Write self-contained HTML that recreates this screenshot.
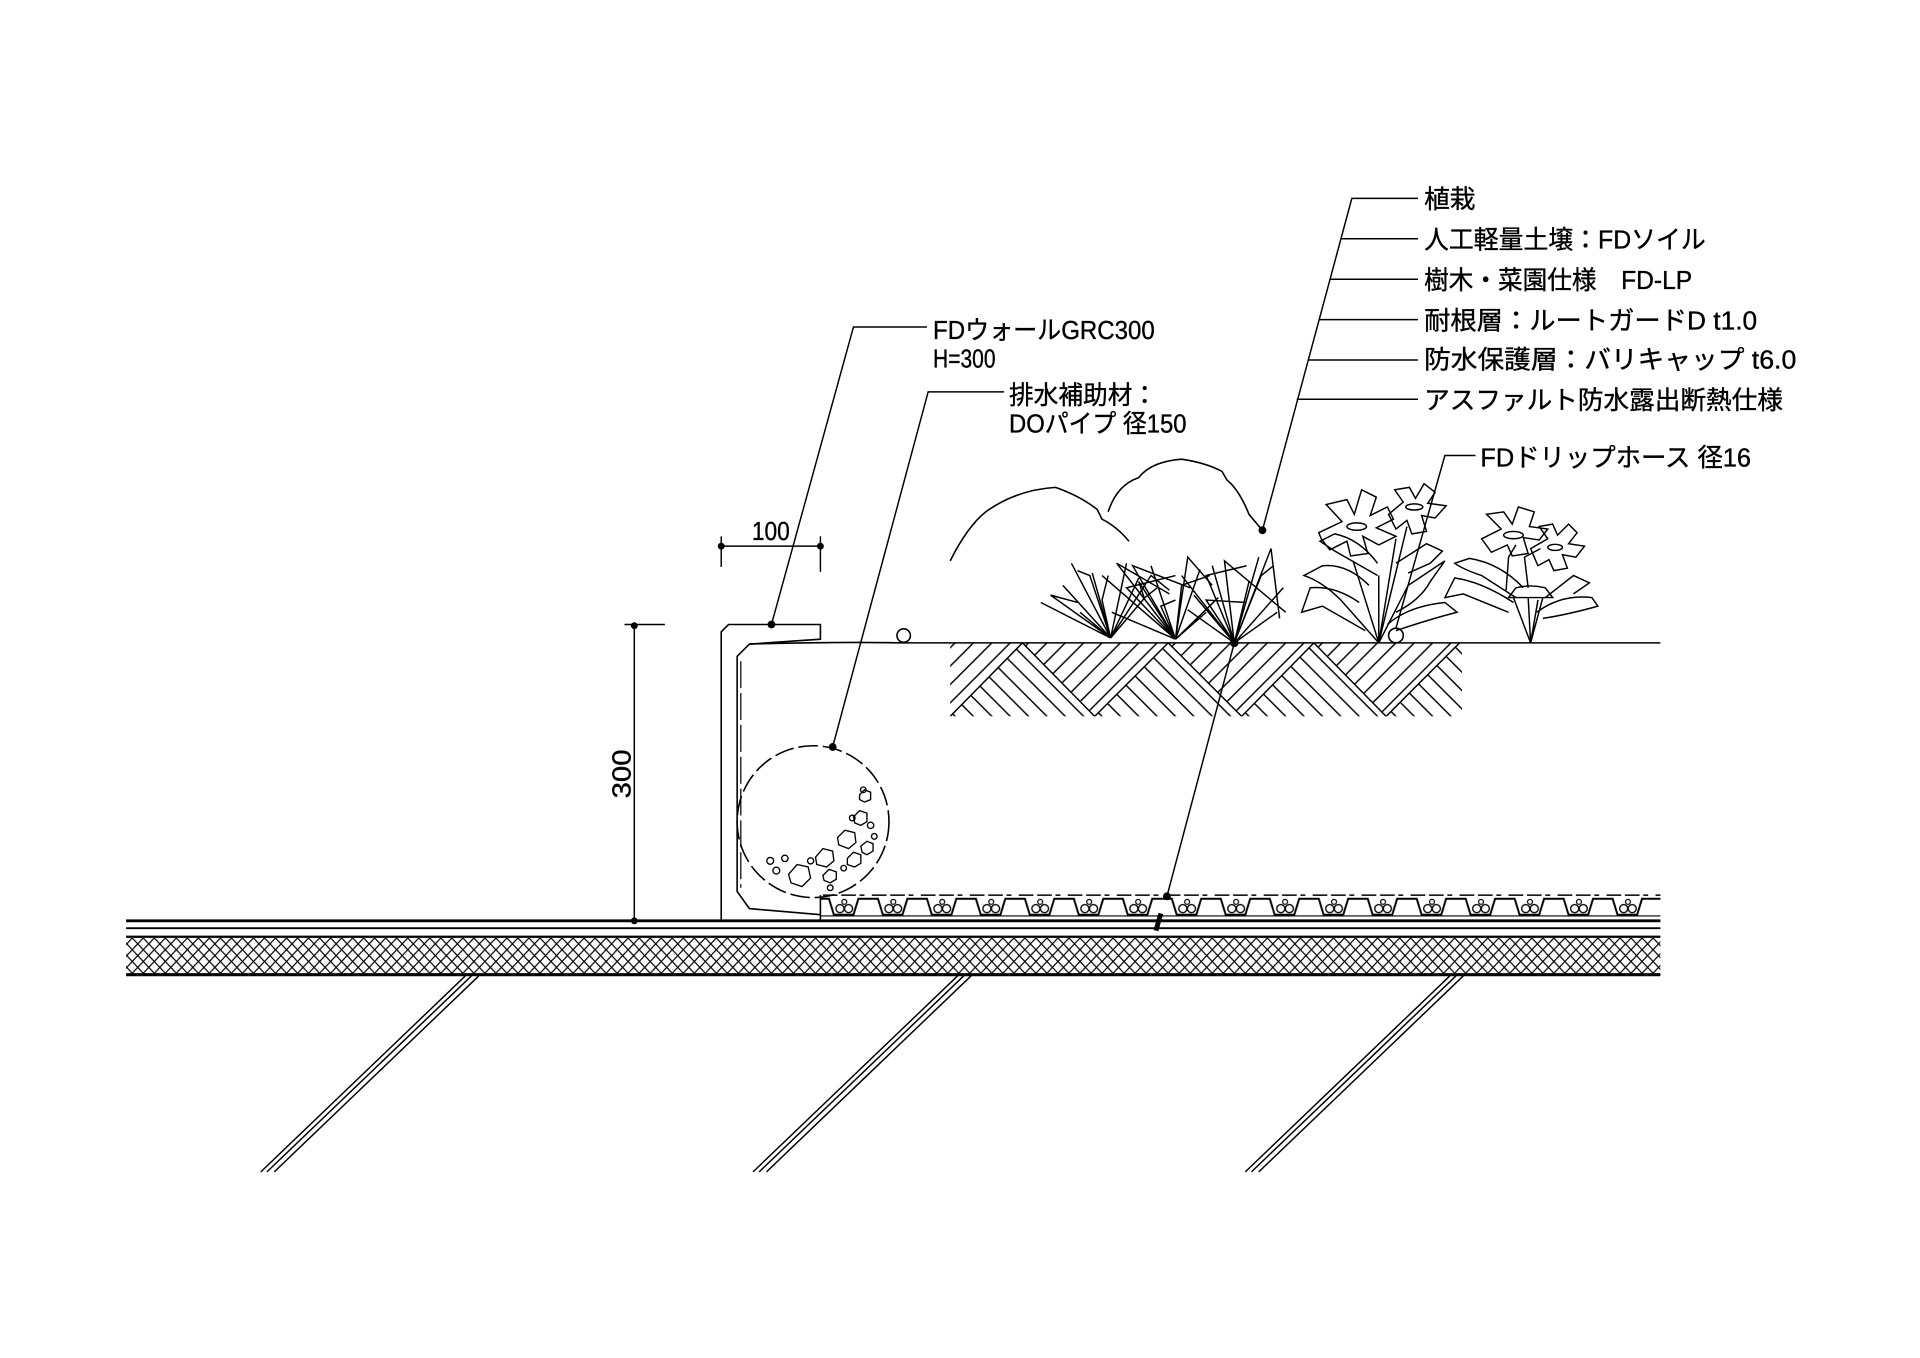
<!DOCTYPE html>
<html><head><meta charset="utf-8">
<style>
html,body{margin:0;padding:0;background:#fff;}
svg{display:block;}
text{font-family:"Liberation Sans","Noto Sans CJK JP",sans-serif;font-size:21px;fill:#000;stroke:#000;stroke-width:0.3;}
</style></head>
<body>
<svg width="1920" height="1358" viewBox="0 0 1568 1109" xmlns="http://www.w3.org/2000/svg">
<defs>
  <pattern id="xh" x="0" y="766" width="9" height="9.6" patternUnits="userSpaceOnUse">
    <path d="M0,0 L9,9.6 M9,0 L0,9.6" stroke="#000" stroke-width="1" fill="none"/>
  </pattern>
  <pattern id="hs1" x="0" y="0" width="15" height="15" patternUnits="userSpaceOnUse">
    <path d="M-3,3 L3,-3 M0,15 L15,0 M12,18 L18,12" stroke="#000" stroke-width="1.2"/>
  </pattern>
  <pattern id="hs2" x="0" y="0" width="15" height="15" patternUnits="userSpaceOnUse">
    <path d="M-3,12 L3,18 M0,0 L15,15 M12,-3 L18,3" stroke="#000" stroke-width="1.2"/>
  </pattern>
  <pattern id="board" x="670" y="730" width="40" height="22" patternUnits="userSpaceOnUse">
    <path d="M0,4 L7,4 L11,17 L27,17 L31,4 L40,4" stroke="#000" stroke-width="1.6" fill="none"/>
    <path d="M2,1 L36,1" stroke="#000" stroke-width="1.2" stroke-dasharray="12,3"/>
    <circle cx="16" cy="12" r="3.3" stroke="#000" fill="none" stroke-width="1.1"/>
    <circle cx="23" cy="12" r="3.3" stroke="#000" fill="none" stroke-width="1.1"/>
    <circle cx="19.5" cy="6.5" r="2" stroke="#000" fill="none" stroke-width="1"/>
  </pattern>
  <clipPath id="soilclip"><rect x="776" y="525" width="418" height="60"/></clipPath>
</defs>

<g stroke="#000" fill="none" stroke-width="1.3">
  <line x1="103" y1="752" x2="1356" y2="752" stroke-width="2.4"/>
  <line x1="103" y1="758" x2="1356" y2="758" stroke-width="1.6"/>
  <rect x="103" y="766" width="1253" height="29" fill="url(#xh)" stroke="none"/>
  <line x1="103" y1="765" x2="1356" y2="765" stroke-width="1.8"/>
  <line x1="103" y1="796" x2="1356" y2="796" stroke-width="2.6"/>

  <g stroke-width="1.2">
    <line x1="380" y1="797" x2="213" y2="957"/><line x1="385" y1="797" x2="218" y2="957"/><line x1="391" y1="797" x2="224" y2="957"/>
    <line x1="782" y1="797" x2="615" y2="957"/><line x1="787" y1="797" x2="620" y2="957"/><line x1="793" y1="797" x2="626" y2="957"/>
    <line x1="1184" y1="797" x2="1017" y2="957"/><line x1="1189" y1="797" x2="1022" y2="957"/><line x1="1195" y1="797" x2="1028" y2="957"/>
  </g>

  <rect x="670" y="730" width="686" height="22" fill="url(#board)" stroke="none"/>
  <line x1="670" y1="731" x2="670" y2="752"/>
  <line x1="670" y1="748" x2="1356" y2="748" stroke-width="1"/>

  <path d="M589,752 L589,516 L595,510 L670,510 L670,522 L612,526 L602,536 L602,728 L612,742 L670,747"/>
  <path d="M605,540 L605,725" stroke-dasharray="22,4" stroke-width="1"/>
  <path d="M612,526 Q680,524 740,525 L1356,525"/>

  <circle cx="664" cy="671" r="62" stroke-dasharray="16,4" stroke-width="1.3"/>
  <g stroke-width="1.1">
    <polygon points="644,714 651,706 660,708 662,717 655,724 646,721"/>
    <polygon points="666,700 672,693 680,695 681,703 675,708 667,706"/>
    <polygon points="684,684 690,678 698,680 699,688 693,693 685,690"/>
    <polygon points="697,667 702,662 708,664 708,671 703,674 698,672"/>
    <polygon points="692,701 697,696 703,698 703,705 698,708 692,706"/>
    <polygon points="703,691 708,687 713,689 713,695 708,698 704,696"/>
    <polygon points="672,715 677,710 683,712 683,718 678,721 673,719"/>
    <polygon points="702,649 706,645 711,647 711,653 706,655 702,653"/>
    <circle cx="629" cy="703" r="2.8"/><circle cx="634" cy="711" r="2.8"/><circle cx="641" cy="701" r="2.6"/>
    <circle cx="662" cy="703" r="2.5"/><circle cx="689" cy="709" r="2.3"/><circle cx="696" cy="668" r="2.3"/>
    <circle cx="705" cy="645" r="2.3"/><circle cx="711" cy="674" r="2.6"/><circle cx="714" cy="683" r="2.3"/>
    <circle cx="678" cy="725" r="2.3"/>
  </g>

  <circle cx="738" cy="519" r="5.5"/>
  <circle cx="1140" cy="519" r="6"/>

  <g clip-path="url(#soilclip)">
    <polygon points="716,525 776,585 835,525" fill="url(#hs1)" stroke="none"/>
    <polygon points="776,585 835,525 894,585" fill="url(#hs2)" stroke="none"/>
    <polygon points="835,525 894,585 954,525" fill="url(#hs1)" stroke="none"/>
    <polygon points="894,585 954,525 1014,585" fill="url(#hs2)" stroke="none"/>
    <polygon points="954,525 1014,585 1073,525" fill="url(#hs1)" stroke="none"/>
    <polygon points="1014,585 1073,525 1132,585" fill="url(#hs2)" stroke="none"/>
    <polygon points="1073,525 1132,585 1192,525" fill="url(#hs1)" stroke="none"/>
    <polygon points="1132,585 1192,525 1252,585" fill="url(#hs2)" stroke="none"/>
    <polygon points="656,585 716,525 776,585" fill="url(#hs2)" stroke="none"/>
    <path d="M776,585 L835,525 L894,585 L954,525 L1014,585 L1073,525 L1132,585 L1192,525" stroke-width="1.2"/>
  </g>

  <path d="M776,458 Q790,430 805,418 Q830,400 862,398 Q882,405 896,416 L900,424 Q912,430 922,442"/>
  <path d="M905,418 Q912,396 930,390 Q940,377 965,375 Q985,378 998,385 L1002,392 Q1012,400 1020,420 L1030,432"/>

  <g stroke-width="1.2">
    <path d="M907,521 L858,486 L880,492 M907,521 L875,460 M907,521 L892,468 M907,521 L882,500 M907,521 L900,490 L905,470 M907,521 L920,460 M907,521 L930,472 M907,521 L890,470 L880,466 M907,521 L935,488 L945,480 M907,521 L850,492 M907,521 L868,478 M907,521 L940,470 L955,482"/>
    <path d="M960,522 L912,460 L955,485 M960,522 L920,480 L960,470 M960,522 L940,462 M960,522 L930,475 L935,490 M960,522 L965,478 L988,470 M960,522 L970,455 L990,478 M960,522 L995,488 M960,522 L985,500 M960,522 L948,495 L960,490 M960,522 L908,500 M960,522 L900,470 M960,522 L980,465 M960,522 L925,462 L972,480"/>
    <path d="M1008,525 L985,470 L1018,462 M1008,525 L1020,475 M1008,525 L1028,455 M1008,525 L1038,448 L1045,505 M1008,525 L1048,480 M1008,525 L1043,500 M1008,525 L985,490 L1018,492 M1008,525 L975,486 M1008,525 L965,470 M1008,525 L1000,458 L1050,500 M1008,525 L970,498 M1008,525 L990,462 M1008,525 L1030,470 L1040,462"/>
  </g>

  <g stroke-width="1.2">
    <path d="M1126,525 L1105,458 M1126,525 L1126,470 M1126,525 L1140,440 M1126,525 L1149,430"/>
    <path d="M1126,525 L1095,490 Q1080,475 1065,470 L1080,462 Q1100,460 1118,478"/>
    <path d="M1115,515 L1080,495 L1063,500 L1070,480 Q1090,478 1110,492"/>
    <path d="M1126,525 L1150,478 Q1165,468 1180,458 L1168,475 Q1160,490 1140,500"/>
    <path d="M1133,510 Q1150,495 1180,492 L1190,500 Q1170,505 1140,515"/>
    <path d="M1125,470 L1090,450 L1078,442 L1090,436 Q1110,440 1125,460"/>
    <path d="M1140,460 L1165,444 L1178,450 L1168,460 L1150,468"/>
    <path d="M1077,435 L1096,426 L1083,412 L1100,408 L1106,420 L1112,400 L1124,406 L1119,421 L1133,414 L1138,424 L1124,431 L1140,438 L1126,445 L1113,438 L1117,452 L1103,454 L1100,442 L1086,449 L1079,440 Z"/>
    <ellipse cx="1108" cy="430" rx="8" ry="3"/>
    <path d="M1134,420 L1146,410 L1139,400 L1151,398 L1156,407 L1163,395 L1172,402 L1166,411 L1181,413 L1172,423 L1161,421 L1165,434 L1153,436 L1149,425 L1140,432 Z"/>
    <ellipse cx="1155" cy="414" rx="7" ry="2.5"/>
  </g>

  <g stroke-width="1.2">
    <path d="M1250,525 L1236,488 M1250,525 L1248,488 M1250,525 L1256,490 M1250,525 L1260,488"/>
    <path d="M1232,488 L1268,488 L1262,480 Q1250,477 1238,480 Z"/>
    <path d="M1238,488 L1210,470 Q1195,465 1188,460 L1200,456 Q1225,460 1244,480"/>
    <path d="M1232,500 L1195,485 L1180,488 L1188,472 Q1210,475 1236,492"/>
    <path d="M1255,500 Q1275,485 1300,488 L1305,495 Q1280,502 1260,505"/>
    <path d="M1262,488 L1285,470 L1298,476 L1285,485"/>
    <path d="M1230,482 L1232,455 L1238,445 M1248,480 L1245,455 L1258,448"/>
    <path d="M1210,440 L1226,432 L1214,420 L1228,418 L1235,428 L1240,414 L1253,418 L1249,430 L1264,432 L1257,441 L1244,439 L1248,452 L1235,454 L1231,445 L1218,451 Z"/>
    <ellipse cx="1236" cy="437" rx="8" ry="3"/>
    <path d="M1250,448 L1264,440 L1257,430 L1268,428 L1272,437 L1281,428 L1288,435 L1281,444 L1294,446 L1287,455 L1276,453 L1280,464 L1269,466 L1265,457 L1256,462 Z"/>
    <ellipse cx="1270" cy="447" rx="6" ry="2.5"/>
  </g>

  <g stroke-width="1.2">
    <line x1="518" y1="510" x2="518" y2="752"/>
    <line x1="510" y1="510" x2="543" y2="510"/>
    <line x1="589" y1="438" x2="589" y2="463"/>
    <line x1="670" y1="438" x2="670" y2="467"/>
    <line x1="589" y1="446" x2="670" y2="446"/>
  </g>
  <g fill="#000" stroke="none">
    <circle cx="518" cy="511" r="2.8"/><circle cx="518" cy="752" r="2.8"/>
    <circle cx="589" cy="446" r="2.8"/><circle cx="670" cy="446" r="2.8"/>
    <circle cx="630" cy="510" r="3.2"/><circle cx="680" cy="610" r="3.2"/>
    <circle cx="1031" cy="433" r="3.2"/><circle cx="1008" cy="525" r="3.5"/>
    <circle cx="953" cy="732" r="3.2"/>
  </g>
  <path d="M948,746 L944,760" stroke-width="4"/>

  <g stroke-width="1.2">
    <path d="M630,510 L697,267 L757,267"/>
    <path d="M680,610 L758,320 L820,320"/>
    <path d="M953,732 L1008,525"/>
    <path d="M1031,433 L1104,162 L1158,162"/>
    <line x1="1095" y1="195" x2="1158" y2="195"/>
    <line x1="1086" y1="228" x2="1158" y2="228"/>
    <line x1="1077" y1="261" x2="1158" y2="261"/>
    <line x1="1068" y1="294" x2="1158" y2="294"/>
    <line x1="1059" y1="326" x2="1158" y2="326"/>
    <path d="M1140,513 L1180,372 L1205,372"/>
  </g>
</g>

<text x="1163" y="170" textLength="42" lengthAdjust="spacingAndGlyphs">植栽</text>
<text x="1163" y="203" textLength="230" lengthAdjust="spacingAndGlyphs">人工軽量土壌：FDソイル</text>
<text x="1163" y="236" textLength="219" lengthAdjust="spacingAndGlyphs">樹木・菜園仕様　FD-LP</text>
<text x="1163" y="269" textLength="272" lengthAdjust="spacingAndGlyphs">耐根層：ルートガードD t1.0</text>
<text x="1163" y="301" textLength="304" lengthAdjust="spacingAndGlyphs">防水保護層：バリキャップ t6.0</text>
<text x="1163" y="334" textLength="293" lengthAdjust="spacingAndGlyphs">アスファルト防水露出断熱仕様</text>
<text x="1209" y="381" textLength="221" lengthAdjust="spacingAndGlyphs">FDドリップホース 径16</text>
<text x="762" y="277" textLength="181" lengthAdjust="spacingAndGlyphs">FDウォールGRC300</text>
<text x="762" y="300" textLength="51" lengthAdjust="spacingAndGlyphs">H=300</text>
<text x="824" y="330" textLength="121" lengthAdjust="spacingAndGlyphs">排水補助材：</text>
<text x="824" y="353" textLength="145" lengthAdjust="spacingAndGlyphs">DOパイプ 径150</text>
<text x="614" y="441" textLength="31" lengthAdjust="spacingAndGlyphs">100</text>
<text x="0" y="0" transform="translate(515,652) rotate(-90)" textLength="40" lengthAdjust="spacingAndGlyphs">300</text>
</svg>
</body></html>
